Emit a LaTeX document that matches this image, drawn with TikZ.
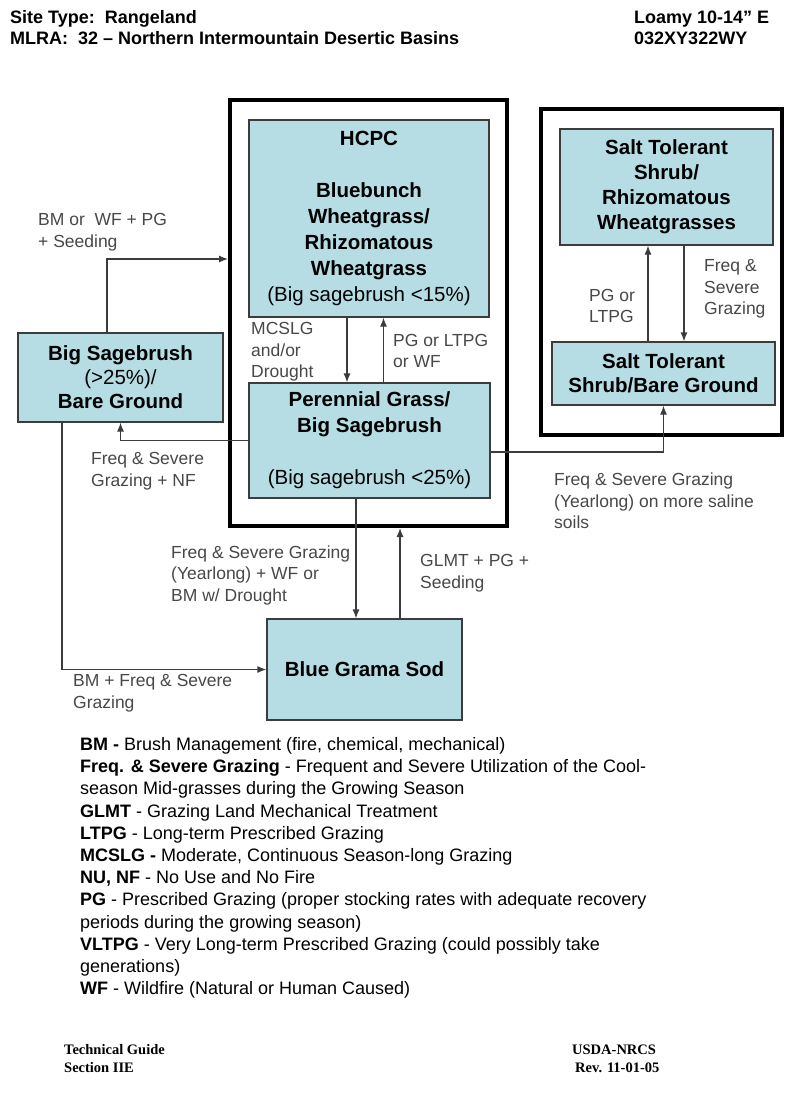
\documentclass[tikz,border=0pt]{standalone}
\usepackage{fontspec}
\setmainfont{Liberation Sans}
\newfontfamily\footfont{Liberation Serif}
\usepackage{tikz}
\usetikzlibrary{arrows.meta}

\definecolor{statefill}{RGB}{182,221,227}
\definecolor{labelgray}{RGB}{72,72,72}
\definecolor{linegray}{RGB}{60,60,60}

\tikzset{
  state/.style={draw=linegray, line width=1.2pt, fill=statefill, align=center,
    inner sep=0pt, font=\fontsize{20.5}{26}\selectfont\bfseries},
  group/.style={draw=black, line width=4pt, inner sep=0pt},
  arr/.style={-{Latex[length=9pt,width=7pt]}, draw=linegray, line width=1.2pt},
  lab/.style={anchor=west, align=left, inner sep=0pt, text=labelgray,
    font=\fontsize{17.5}{21.5}\selectfont},
  head/.style={anchor=west, align=left, inner sep=0pt,
    font=\fontsize{18}{21}\selectfont\bfseries},
}

\begin{document}
\begin{tikzpicture}[x=1pt, y=-1pt]
      \useasboundingbox[fill=white] (0,0) rectangle (800,1108);
      % page header
      \node[head] (site) at (10,27.5) {Site Type:\ \ Rangeland\\MLRA:\ \ 32 -- Northern Intermountain Desertic Basins};
      \node[head] (code) at (634,27.5) {Loamy 10-14'' E\\032XY322WY};

      % state groups
      \node[group, minimum width=277pt, minimum height=426pt] (hgroup) at (368.5,313) {};
      \node[group, minimum width=241pt, minimum height=326pt] (sgroup) at (661.5,272) {};

      % states
      \node[state, minimum width=240pt, minimum height=197pt] (hcpc) at (369,218.5)
        {HCPC\\[26pt]Bluebunch\\Wheatgrass/\\Rhizomatous\\Wheatgrass\\{\mdseries (Big sagebrush <15\%)}};
      \node[state, minimum width=241pt, minimum height=115pt] (pgbs) at (369.5,440.5)
        {Perennial Grass/\\Big Sagebrush\\[26pt]{\mdseries (Big sagebrush <25\%)}};
      \node[state, minimum width=205pt, minimum height=89pt] (bsage) at (120.5,377.5)
        {Big Sagebrush\\[-2pt]{\mdseries (>25\%)/}\\[-2pt]Bare Ground};
      \node[state, minimum width=195pt, minimum height=101pt] (bgs) at (364.5,669.5) {Blue Grama Sod};
      \node[state, minimum width=213pt, minimum height=116pt] (sttop) at (666.5,187)
        {Salt Tolerant\\[-1pt]Shrub/\\[-1pt]Rhizomatous\\[-1pt]Wheatgrasses};
      \node[state, minimum width=223pt, minimum height=63pt] (stbg) at (663.5,373.5)
        {Salt Tolerant\\[-2pt]Shrub/Bare Ground};

      % transitions
      \draw[arr] ([xshift=-22pt]hcpc.south) -- ([xshift=-22pt]hcpc.south |- pgbs.north);
      \draw[arr] ([xshift=14pt]pgbs.north) -- ([xshift=14pt]pgbs.north |- hcpc.south);
      \draw[arr] ([xshift=-13.5pt]bsage.north) |- ([yshift=54pt]hgroup.west);
      \draw[arr] (pgbs.west) -| (bsage.south);
      \draw[arr] ([xshift=-58.5pt]bsage.south) |- (bgs.west);
      \draw[arr] ([xshift=-13.5pt]pgbs.south) -- ([xshift=-13.5pt]pgbs.south |- bgs.north);
      \draw[arr] ([xshift=35.5pt]bgs.north) -- ([xshift=35.5pt]bgs.north |- hgroup.south);
      \draw[arr] ([yshift=-11.5pt]pgbs.east) -| (stbg.south);
      \draw[arr] ([xshift=-15.5pt]stbg.north) -- ([xshift=-15.5pt]stbg.north |- sttop.south);
      \draw[arr] ([xshift=20.5pt]stbg.north |- sttop.south) -- ([xshift=20.5pt]stbg.north);

      % transition labels
      \node[lab] (l1) at (38,232) {BM or\ \ WF + PG\\+ Seeding};
      \node[lab] (l2) at (251,352) {MCSLG\\and/or\\Drought};
      \node[lab] (l3) at (393,351) {PG or LTPG\\or WF};
      \node[lab] (l4) at (91,471) {Freq \& Severe\\Grazing + NF};
      \node[lab] (l5) at (589,306) {PG or\\LTPG};
      \node[lab] (l6) at (704,289) {Freq \&\\Severe\\Grazing};
      \node[lab] (l7) at (554,501) {Freq \& Severe Grazing\\(Yearlong) on more saline\\soils};
      \node[lab] (l8) at (171,575) {Freq \& Severe Grazing\\(Yearlong) + WF or\\BM w/ Drought};
      \node[lab] (l9) at (420,573) {GLMT + PG +\\Seeding};
      \node[lab] (l10) at (73,693) {BM + Freq \& Severe\\Grazing};

      % legend
      \node[anchor=west, align=left, inner sep=0pt, font=\fontsize{18}{22.2}\selectfont] (legend) at (80,868)
        {\textbf{BM -} Brush Management (fire, chemical, mechanical)\\
         \textbf{Freq. \& Severe Grazing} - Frequent and Severe Utilization of the Cool-\\
         season Mid-grasses during the Growing Season\\
         \textbf{GLMT} - Grazing Land Mechanical Treatment\\
         \textbf{LTPG} - Long-term Prescribed Grazing\\
         \textbf{MCSLG -} Moderate, Continuous Season-long Grazing\\
         \textbf{NU, NF} - No Use and No Fire\\
         \textbf{PG} - Prescribed Grazing (proper stocking rates with adequate recovery\\
         periods during the growing season)\\
         \textbf{VLTPG} - Very Long-term Prescribed Grazing (could possibly take\\
         generations)\\
         \textbf{WF} - Wildfire (Natural or Human Caused)};

      % page footer
      \node[anchor=west, align=left, inner sep=0pt, font=\fontsize{14.5}{18}\selectfont\footfont\bfseries] (guide) at (64,1059) {Technical Guide\\Section IIE};
      \node[anchor=west, align=left, inner sep=0pt, font=\fontsize{14.5}{18}\selectfont\footfont\bfseries] (rev) at (572,1059) {USDA-NRCS\\\hspace{3pt}Rev. 11-01-05};
    \end{tikzpicture}
\end{document}
